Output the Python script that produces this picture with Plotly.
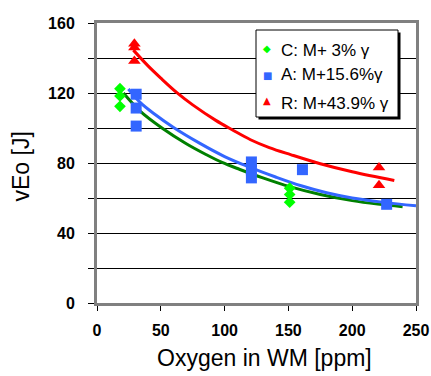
import plotly.graph_objects as go

# ---- data ----
c_x = [18, 18, 18, 151, 151, 151]
c_y = [122.5, 118.3, 112.4, 65.6, 62.0, 57.6]
a_x = [30.7, 30.7, 30.7, 121, 121, 121, 161, 227]
a_y = [119.3, 111.4, 101.1, 80.6, 76.0, 71.5, 76.2, 56.4]
r_x = [29.3, 29.3, 29.3, 221, 221]
r_y = [148.2, 146.0, 138.3, 77.5, 67.3]

# fitted trend curves
c_fit_x = [20.7, 34, 50.9, 70, 85, 98, 112, 130, 151, 175, 200, 220, 239.5]
c_fit_y = [120, 109.5, 100, 91, 85, 80.3, 76.3, 71.5, 66.5, 62, 58.5, 56.5, 55]
a_fit_x = [24.6, 34, 45, 60, 80, 100, 120, 140, 160, 180, 200, 225, 250]
a_fit_y = [122.3, 114.5, 108, 100.3, 91.5, 83.7, 77.5, 72, 67, 63, 60, 57.5, 55.5]
r_fit_x = [28.5, 40, 50, 62.6, 75, 92.8, 105.9, 120.3, 135, 151.7, 175, 200, 233]
r_fit_y = [144.5, 135.5, 128.5, 120.2, 113.2, 104.5, 99, 93.3, 88.8, 84.8, 79.6, 75, 70]

legend_labels = ["C: M+ 3% \u03b3", "A: M+15.6%\u03b3", "R: M+43.9% \u03b3"]
legend_symbols = ["\u25c6", "\u25a0", "\u25b2"]
x_title = "Oxygen in WM [ppm]"
y_title = "vEo [J]"

GREEN_M = "#00ff00"
GREEN_L = "#008000"
BLUE = "#3366ff"
RED = "#ff0000"
FONT = "Liberation Sans, Arial"

fig = go.Figure()
fig.add_trace(go.Scatter(x=c_fit_x, y=c_fit_y, mode="lines", line=dict(color=GREEN_L, width=3, shape="spline"), showlegend=False))
fig.add_trace(go.Scatter(x=a_fit_x, y=a_fit_y, mode="lines", line=dict(color=BLUE, width=3, shape="spline"), showlegend=False))
fig.add_trace(go.Scatter(x=r_fit_x, y=r_fit_y, mode="lines", line=dict(color=RED, width=3, shape="spline"), showlegend=False))
fig.add_trace(go.Scatter(x=c_x, y=c_y, mode="markers", name=legend_labels[0],
                         marker=dict(symbol="diamond", size=9, color=GREEN_M), showlegend=False))
fig.add_trace(go.Scatter(x=a_x, y=a_y, mode="markers", name=legend_labels[1],
                         marker=dict(symbol="square", size=11, color=BLUE), showlegend=False))
fig.add_trace(go.Scatter(x=r_x, y=r_y, mode="markers", name=legend_labels[2],
                         marker=dict(symbol="triangle-up", size=11, color=RED), showlegend=False))

L, R, T, B = 97, 15, 23, 73
W = 431 - L - R
H = 376 - T - B

def px(x):
    return (x - L) / W

def py(y):
    return (376 - B - y) / H

shapes = [
    dict(type="rect", xref="paper", yref="paper", x0=px(258.5), x1=px(400.5), y0=py(119.5), y1=py(32.5),
         fillcolor="#000000", line=dict(width=0), layer="above"),
    dict(type="rect", xref="paper", yref="paper", x0=px(256), x1=px(398), y0=py(117), y1=py(30),
         fillcolor="#ffffff", line=dict(color="#000000", width=1), layer="above"),
]

annotations = []
sym_y = [48.5, 75, 100.5]
txt_y = [50.5, 74, 103]
sym_col = [GREEN_M, BLUE, RED]
for i in range(3):
    annotations.append(dict(xref="paper", yref="paper", x=px(267), y=py(sym_y[i]), text=legend_symbols[i],
                            showarrow=False, font=dict(family="DejaVu Sans", size=10, color=sym_col[i]),
                            xanchor="center", yanchor="middle"))
    annotations.append(dict(xref="paper", yref="paper", x=px(279), y=py(txt_y[i]), text=legend_labels[i],
                            showarrow=False, font=dict(family=FONT, size=17, color="#000000"),
                            xanchor="left", yanchor="middle"))
annotations.append(dict(xref="paper", yref="paper", x=px(264), y=py(358), text=x_title, showarrow=False,
                        font=dict(family=FONT, size=23, color="#000000"), xanchor="center", yanchor="middle"))
annotations.append(dict(xref="paper", yref="paper", x=px(20.5), y=py(167), text=y_title, showarrow=False,
                        textangle=-90, font=dict(family=FONT, size=23, color="#000000"),
                        xanchor="center", yanchor="middle"))

fig.update_layout(
    width=431, height=376,
    margin=dict(l=L, r=R, t=T, b=B),
    paper_bgcolor="white", plot_bgcolor="white",
    showlegend=False,
    shapes=shapes, annotations=annotations,
    font=dict(family=FONT, color="#000000"),
)
fig.update_xaxes(
    range=[0, 250], dtick=50, tick0=0, automargin=False,
    showgrid=False, zeroline=False,
    showline=True, mirror=True, linecolor="#808080", linewidth=3,
    ticks="outside", ticklen=5, tickcolor="#000000", tickwidth=1,
    tickfont=dict(family=FONT, size=16, color="#000000", weight="bold"),
    ticklabelstandoff=6,
)
fig.update_yaxes(
    range=[0, 160], dtick=40, tick0=0, automargin=False,
    showgrid=True, gridcolor="#000000", gridwidth=1.3,
    zeroline=False,
    showline=True, mirror=True, linecolor="#808080", linewidth=3,
    ticks="outside", ticklen=6, tickcolor="#000000", tickwidth=1,
    minor=dict(dtick=20, ticks="outside", ticklen=6, tickcolor="#000000", showgrid=True,
               gridcolor="#000000", gridwidth=1.3),
    tickfont=dict(family=FONT, size=16, color="#000000", weight="bold"),
    ticklabelstandoff=10,
)

fig.write_html("out.html", config={"displayModeBar": False},
               post_script="document.body.style.margin='0px';document.body.style.overflow='hidden';")
